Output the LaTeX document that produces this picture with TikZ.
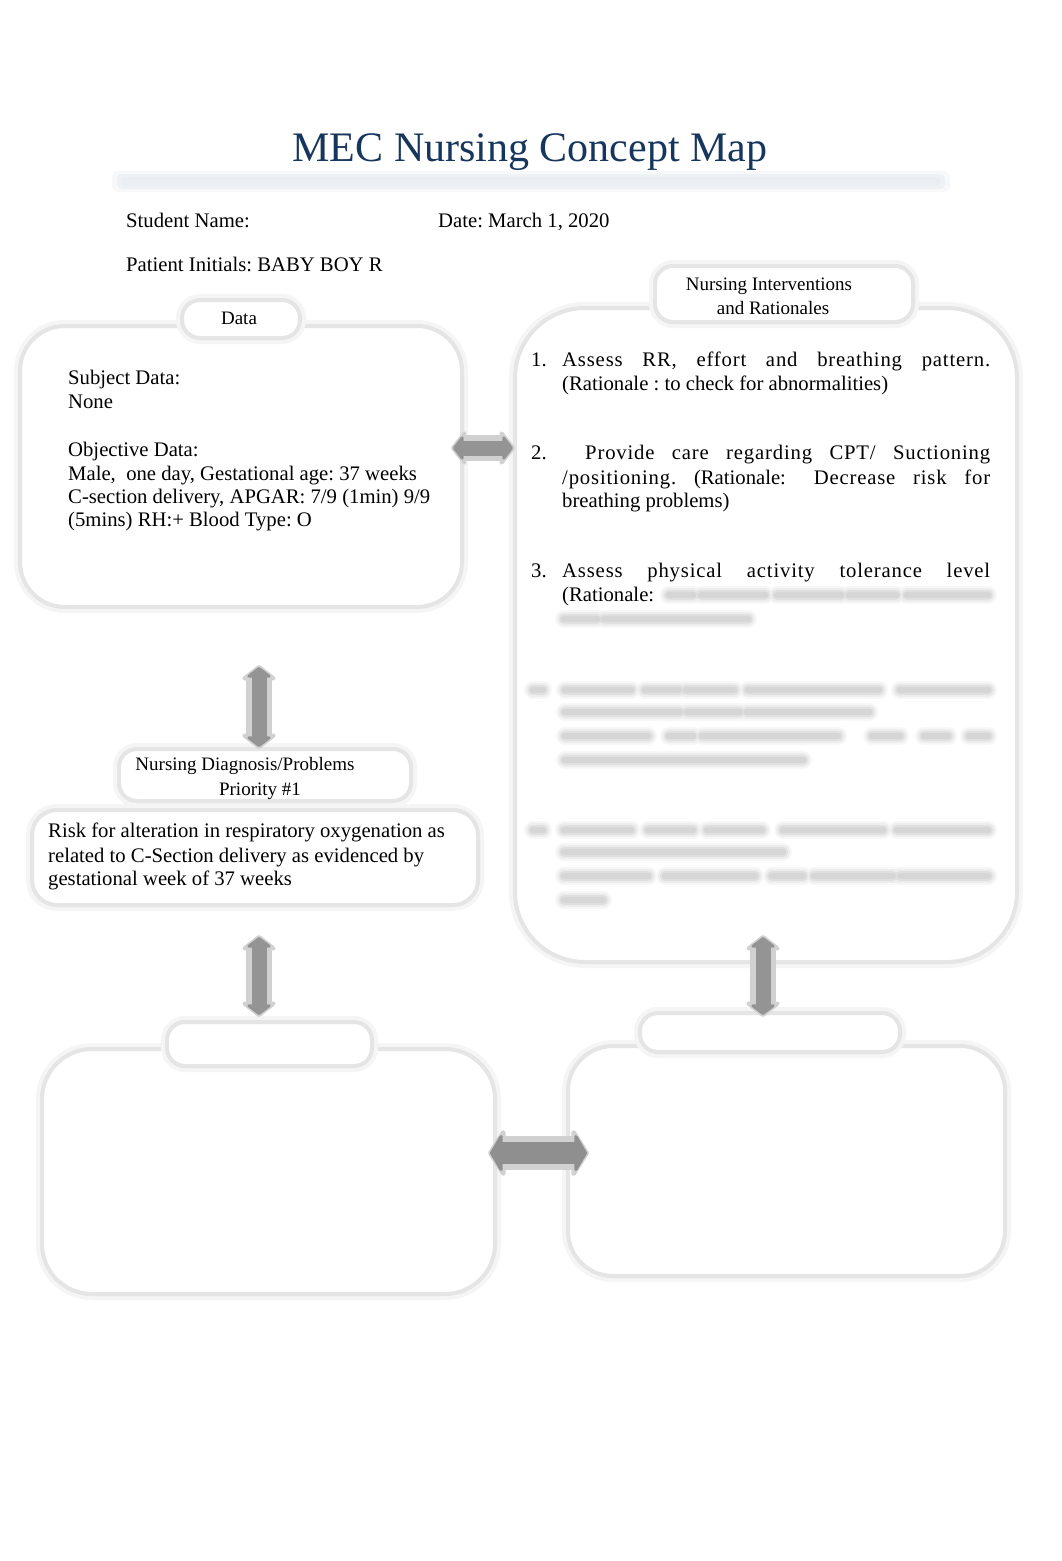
\documentclass[tikz,border=0pt]{standalone}
\usepackage{fontspec}
\setmainfont{Liberation Serif}
\usetikzlibrary{arrows.meta,calc}
\definecolor{navy}{RGB}{23,54,93}
\definecolor{bandc}{RGB}{234,238,242}
\frenchspacing
\newcommand\lsp{\addfontfeature{LetterSpace=4}}
\newcommand\bline[2]{%
  \foreach \lw/\lc in {18/3,14/7,10/12,6/16}{%
    \foreach \sa/\sb in {#2}{\draw[line cap=round, line width=\lw pt, black!\lc] (\sa,#1)--(\sb,#1);}}}
\begin{document}
\begin{tikzpicture}[x=1pt,y=-1pt,
  txt/.style={anchor=base west, inner sep=0pt, font=\fontsize{20.7}{24}\selectfont},
  tabtxt/.style={anchor=base, inner sep=0pt, font=\fontsize{19}{25}\selectfont},
  softbox/.style={rectangle, outer sep=0pt, draw=black!10, line width=4pt, fill=white,
    preaction={draw=black!4, line width=12pt}},
  tabbox/.style={softbox, rounded corners=18pt},
  arrhalo/.style={draw=black!18, line width=26pt,
    {Triangle[width=40pt,length=16pt,round]}-{Triangle[width=40pt,length=16pt,round]}},
  arrcore/.style={draw=black!42, line width=15pt,
    {Triangle[width=28pt,length=11pt,round]}-{Triangle[width=28pt,length=11pt,round]}},
  arrhaloB/.style={draw=black!18, line width=34pt,
    {Triangle[width=56pt,length=18pt,round]}-{Triangle[width=56pt,length=18pt,round]}},
  arrcoreB/.style={draw=black!44, line width=22pt,
    {Triangle[width=44pt,length=13pt,round]}-{Triangle[width=44pt,length=13pt,round]}}
]
\useasboundingbox (0,0) rectangle (1062,1561);
\fill[white] (0,0) rectangle (1062,1561);

% title and band
\node[anchor=base, inner sep=0pt, font=\fontsize{42}{50}\selectfont, text=navy] (title) at (530,161) {MEC Nursing Concept Map};
\fill[bandc!40, rounded corners=7pt] (112,171) rectangle (950,192);
\fill[bandc!75, rounded corners=5pt] (117,174) rectangle (945,189);
\fill[bandc, rounded corners=3pt] (122,177) rectangle (940,186);

% header
\node[txt] (student) at (126,227) {Student Name:};
\node[txt] (date) at (438,227) {Date: March 1, 2020};
\node[txt] (patient) at (126,271) {Patient Initials: BABY BOY R};

% boxes
\node[softbox, rounded corners=45pt, minimum width=442pt, minimum height=281pt] (data) at (241,466.5) {};
\node[tabbox, minimum width=118pt, minimum height=38pt] (datatab) at (241,319) {};
\node[softbox, rounded corners=70pt, minimum width=502pt, minimum height=654pt] (interv) at (766,635) {};
\node[tabbox, minimum width=258pt, minimum height=56pt] (intervtab) at (784,294) {};
\node[tabbox, minimum width=292pt, minimum height=52pt] (diagtab) at (265,775) {};
\node[softbox, rounded corners=25pt, minimum width=446pt, minimum height=95pt] (diag) at (255,857.5) {};
\node[softbox, rounded corners=50pt, minimum width=453pt, minimum height=245pt] (blbox) at (268.5,1171.5) {};
\node[tabbox, minimum width=205pt, minimum height=44pt] (bltab) at (269.5,1044) {};
\node[softbox, rounded corners=45pt, minimum width=437pt, minimum height=230pt] (brbox) at (786.5,1161) {};
\node[tabbox, minimum width=260pt, minimum height=39pt] (brtab) at (770,1032.5) {};

% tab labels
\node[tabtxt] (datalab) at (239,324) {Data};
\node[tabtxt] (intervlab1) at (769,290) {Nursing Interventions};
\node[tabtxt] (intervlab2) at (773,314) {and Rationales};
\node[tabtxt] (diaglab1) at (245,770) {Nursing Diagnosis/Problems};
\node[tabtxt] (diaglab2) at (260,795) {Priority \#1};

% data content
\node[txt] (d1) at (68,384) {Subject Data:};
\node[txt] (d2) at (68,408) {None};
\node[txt] (d3) at (68,456) {Objective Data:};
\node[txt] (d4) at (68,480) {Male,\ \ one day, Gestational age: 37 weeks};
\node[txt] (d5) at (68,503) {C-section delivery, APGAR: 7/9 (1min) 9/9};
\node[txt] (d6) at (68,526) {(5mins) RH:+ Blood Type: O};

% diagnosis content
\node[txt] (g1) at (48,837) {Risk for alteration in respiratory oxygenation as};
\node[txt] (g2) at (48,862) {related to C-Section delivery as evidenced by};
\node[txt] (g3) at (48,885) {gestational week of 37 weeks};

% interventions content
\node[txt] (n1) at (531,366) {1.};
\node[txt] (i1a) at (562,366) {\makebox[428pt][s]{\lsp Assess RR, effort and breathing pattern.}};
\node[txt] (i1b) at (562,390) {(Rationale : to check for abnormalities)};
\node[txt] (n2) at (531,459) {2.};
\node[txt] (i2a) at (585,459) {\makebox[405pt][s]{\lsp Provide care regarding CPT/ Suctioning}};
\node[txt] (i2b) at (562,484) {\makebox[428pt][s]{{\lsp /positioning.} (Rationale:\hspace{10pt} {\lsp Decrease} {\lsp risk} {\lsp for}}};
\node[txt] (i2c) at (562,507) {breathing problems)};
\node[txt] (n3) at (531,577) {3.};
\node[txt] (i3a) at (562,577) {\makebox[428pt][s]{\lsp Assess physical activity tolerance level}};
\node[txt] (i3b) at (562,601) {(Rationale:};

% obscured text
\bline{595}{669/693,701/765,777/841,849/896,907/988}
\bline{619}{564/597,604/748}
\bline{690}{533/543,565/631,645/679,686/734,748/879,900/988}
\bline{712}{565/680,687/740,747/869}
\bline{736}{565/648,669/693,702/838,872/900,924/948,969/988}
\bline{760}{565/803}
\bline{830}{533/543,564/631,648/693,707/762,783/883,897/988}
\bline{852}{564/783}
\bline{876}{564/648,665/755,772/803,814/893,900/988}
\bline{900}{564/603}

% connectors
\coordinate (ax1) at (259,0);
\coordinate (ax2) at (763,0);
\coordinate (ay1) at (0,448);
\coordinate (ay2) at (0,1153);
\draw[arrhalo, shorten <=58pt, shorten >=0pt] (data.south -| ax1) -- (diagtab.north -| ax1);
\draw[arrcore, shorten <=60pt, shorten >=2pt] (data.south -| ax1) -- (diagtab.north -| ax1);
\draw[arrhalo, shorten <=30pt, shorten >=5pt] (diag.south -| ax1) -- (bltab.north -| ax1);
\draw[arrcore, shorten <=32pt, shorten >=7pt] (diag.south -| ax1) -- (bltab.north -| ax1);
\draw[arrhalo, shorten <=-27pt, shorten >=-4pt] (interv.south -| ax2) -- (brtab.north -| ax2);
\draw[arrcore, shorten <=-25pt, shorten >=-2pt] (interv.south -| ax2) -- (brtab.north -| ax2);
\draw[arrhalo, shorten <=-11pt, shorten >=0pt] (data.east |- ay1) -- (interv.west |- ay1);
\draw[arrcore, shorten <=-9pt, shorten >=2pt] (data.east |- ay1) -- (interv.west |- ay1);
\draw[arrhaloB, shorten <=-7pt, shorten >=-21pt] (blbox.east |- ay2) -- (brbox.west |- ay2);
\draw[arrcoreB, shorten <=-5pt, shorten >=-19pt] (blbox.east |- ay2) -- (brbox.west |- ay2);
\end{tikzpicture}
\end{document}
